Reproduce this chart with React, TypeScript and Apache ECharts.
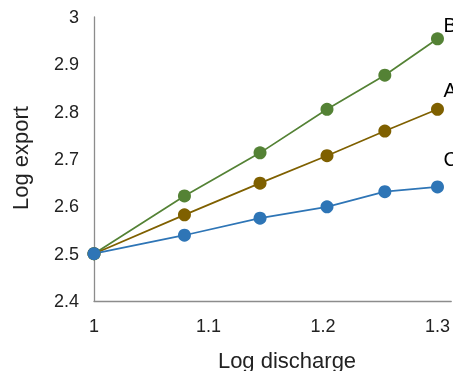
import React, { useEffect, useRef } from "react";
import * as echarts from "echarts";

const xValues = [1, 1.079, 1.145, 1.2035, 1.254, 1.3];
const seriesB = [2.5, 2.622, 2.713, 2.805, 2.877, 2.954];
const seriesA = [2.5, 2.582, 2.649, 2.707, 2.759, 2.805];
const seriesC = [2.5, 2.539, 2.575, 2.599, 2.631, 2.641];
const seriesNames = ["B", "A", "C"];
const xTitle = "Log discharge";
const yTitle = "Log export";

const FONT = "'Liberation Sans', Arial, sans-serif";

export default function App() {
  const ref = useRef<HTMLDivElement>(null);
  useEffect(() => {
    if (!ref.current) return;
    const chart = echarts.init(ref.current, null, { renderer: "svg" });
    const mk = (name: string, vals: number[], color: string, offY: number) => ({
      name,
      type: "line",
      data: vals.map((v, i) => ({
        value: [xValues[i], v],
        label:
          i === vals.length - 1
            ? {
                show: true,
                formatter: name,
                position: "inside",
                align: "left",
                verticalAlign: "middle",
                offset: [6, offY],
                color: "#000",
                fontSize: 20,
                fontFamily: FONT,
              }
            : { show: false },
      })),
      symbol: "circle",
      symbolSize: 13,
      itemStyle: { color, borderColor: color, borderWidth: 0 },
      lineStyle: { color, width: 1.7 },
      z: 2,
    });
    chart.setOption({
      animation: false,
      grid: { left: 94, right: 0, top: 17, bottom: 70 },
      xAxis: {
        type: "value",
        min: 1,
        max: 1.312,
        interval: 0.1,
        axisLine: { show: true, lineStyle: { color: "#8c8c8c", width: 1.3 } },
        axisTick: { show: false },
        splitLine: { show: false },
        axisLabel: {
          showMaxLabel: false,
          margin: 16,
          fontSize: 18,
          color: "#222",
          fontFamily: FONT,
          formatter: (v: number) => String(Math.round(v * 10) / 10),
        },
      },
      yAxis: {
        type: "value",
        min: 2.4,
        max: 3,
        interval: 0.1,
        axisLine: { show: true, lineStyle: { color: "#8c8c8c", width: 1.3 } },
        axisTick: { show: false },
        splitLine: { show: false },
        axisLabel: {
          margin: 15,
          fontSize: 18,
          color: "#222",
          fontFamily: FONT,
          formatter: (v: number) => String(Math.round(v * 10) / 10),
        },
      },
      graphic: [
        {
          type: "text",
          x: 287,
          y: 360,
          style: {
            text: xTitle,
            fontSize: 22,
            fontFamily: FONT,
            fill: "#222",
            align: "center",
            verticalAlign: "middle",
          },
        },
        {
          type: "text",
          x: 20,
          y: 158,
          rotation: Math.PI / 2,
          style: {
            text: yTitle,
            fontSize: 22,
            fontFamily: FONT,
            fill: "#222",
            align: "center",
            verticalAlign: "middle",
          },
        },
      ],
      series: [
        mk(seriesNames[0], seriesB, "#548235", -14),
        mk(seriesNames[1], seriesA, "#7f6000", -19),
        mk(seriesNames[2], seriesC, "#2e75b6", -28),
      ],
    });
    return () => chart.dispose();
  }, []);
  return (
    <div
      ref={ref}
      style={{ position: "fixed", left: 0, top: 0, width: 453, height: 371 }}
    />
  );
}
